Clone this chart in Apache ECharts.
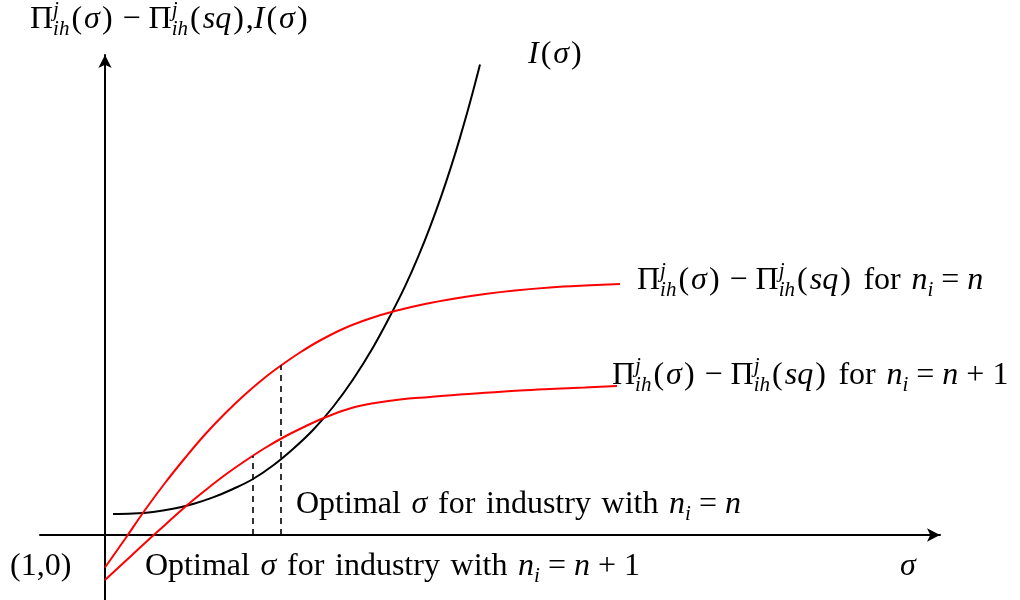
<!DOCTYPE html>
<html>
<head>
<meta charset="utf-8">
<style>
  html, body { margin: 0; background: #fff; }
  #chart { width: 1020px; height: 600px; }
</style>
<script src="https://cdn.jsdelivr.net/npm/echarts@6/dist/echarts.min.js"></script>
</head>
<body>
<div id="chart"></div>
<script>
// Points are [sigma, value], measured from the (1,0) origin of the sketch.
const investCost = [
  [0.8, 2.1], [2.8, 2.14], [4.8, 2.3], [6.8, 2.62], [8.8, 3.1], [10.8, 3.76],
  [12.8, 4.6], [14.8, 5.6], [16.8, 6.95], [18.8, 8.6], [20.8, 10.5], [22.8, 12.8],
  [24.8, 15.55], [26.8, 18.75], [28.7, 22.26], [30.0, 24.86], [31.3, 27.79], [32.5, 30.79],
  [33.6, 33.81], [34.6, 36.81], [35.5, 39.74], [36.5, 43.24], [37.5, 47.04]
];
const gainN = [
  [0, -3.25], [2.0, -0.4], [4.0, 2.5], [6.0, 5.2], [8.0, 7.7], [10.0, 10.05],
  [12.0, 12.15], [14.0, 14.05], [16.0, 15.75], [17.6, 16.95], [19.5, 18.25], [21.5, 19.45],
  [24.0, 20.7], [26.5, 21.65], [29.0, 22.4], [32.0, 23.1], [35.0, 23.65], [38.0, 24.1],
  [41.0, 24.45], [44.5, 24.75], [48.0, 24.95], [51.5, 25.1]
];
const gainN1 = [
  [0, -4.5], [2.0, -2.65], [4.0, -0.8], [6.0, 1.0], [8.0, 2.8], [10.0, 4.45],
  [12.0, 6.0], [14.0, 7.4], [16.0, 8.7], [18.0, 9.85], [20.0, 10.85], [22.0, 11.75],
  [24.5, 12.65], [27.0, 13.2], [29.5, 13.55], [32.5, 13.8], [35.5, 14.05], [38.5, 14.25],
  [41.5, 14.45], [44.5, 14.6], [48.0, 14.75], [51.2, 14.9]
];
// optimal sigma for each industry, and the gain reached there
const optimalN = [17.6, 16.95];
const optimalN1 = [14.8, 7.9];

const SERIF = '"Liberation Serif", "DejaVu Serif", serif';
const FS = 32;
const SS = 21;
const base = { fontFamily: SERIF, fontSize: FS, lineHeight: 40, color: '#000' };
const rich = {
  r: base,
  i: Object.assign({}, base, { fontStyle: 'italic' }),
  p: Object.assign({}, base, { padding: [0, 2] }),
  sup: { fontFamily: SERIF, fontSize: SS, lineHeight: 25, color: '#000', fontStyle: 'italic', verticalAlign: 'top', width: 0 },
  sub: { fontFamily: SERIF, fontSize: SS, lineHeight: 13, color: '#000', fontStyle: 'italic', verticalAlign: 'bottom' }
};
const SP = '\u2004';
const diff = '{r|Π}{sup|j}{sub|ih}{p|(}{i|σ}{p|)}{r| − Π}{sup|j}{sub|ih}{p|(}{i|sq}{p|)}';
const cond = '{r|' + SP + 'for' + SP + '}{i|n}{sub|i}{r| = }{i|n}';
const optimal = '{r|Optimal' + SP + '}{i|σ}{r|' + SP + 'for' + SP + 'industry' + SP + 'with' + SP + '}{i|n}{sub|i}{r| = }{i|n}';

const chart = echarts.init(document.getElementById('chart'));

function curve(name, data, color, label, offset, distance) {
  return {
    name, type: 'line', data, smooth: 0.4,
    showSymbol: false, silent: true,
    lineStyle: { color, width: 2 },
    endLabel: {
      show: true, formatter: () => label, rich,
      offset, distance, align: 'left', verticalAlign: 'middle'
    }
  };
}

function dropLine(pt) {
  return {
    type: 'line', data: [[pt[0], 0], pt], showSymbol: false, silent: true,
    lineStyle: { color: '#000', width: 1.6, type: [6, 5] }
  };
}

function text(x, y, str) {
  return {
    type: 'text', x, y, silent: true,
    style: { text: str, rich, align: 'left', verticalAlign: 'middle' }
  };
}

chart.setOption({
  animation: false,
  grid: { left: 40, right: 80, top: 55, bottom: 0 },
  xAxis: {
    type: 'value', min: -6.5, max: 83.5,
    axisLine: { onZero: true, symbol: ['none', 'arrow'], symbolSize: [10, 13], lineStyle: { color: '#000', width: 2 } },
    axisTick: { show: false }, axisLabel: { show: false }, splitLine: { show: false }
  },
  yAxis: {
    type: 'value', min: -6.5, max: 48,
    axisLine: { onZero: true, symbol: ['none', 'arrow'], symbolSize: [10, 13], lineStyle: { color: '#000', width: 2 } },
    axisTick: { show: false }, axisLabel: { show: false }, splitLine: { show: false }
  },
  series: [
    curve('I', investCost, '#000', '{i|I}{p|(}{i|σ}{p|)}', [43, -10], 5),
    curve('n', gainN, '#ff0000', diff + cond, [0, -3], 17),
    curve('n+1', gainN1, '#ff0000', diff + cond + '{r| + 1}', [-10, -10], 5),
    dropLine(optimalN),
    dropLine(optimalN1)
  ],
  graphic: [
    text(30, 20, diff + '{r|,}{i|I}{p|(}{i|σ}{p|)}'),
    text(296, 505, optimal),
    text(10, 567, '{r|(1,0)}'),
    text(145, 567, optimal + '{r| + 1}'),
    text(900, 567, '{i|σ}')
  ]
});
</script>
</body>
</html>
